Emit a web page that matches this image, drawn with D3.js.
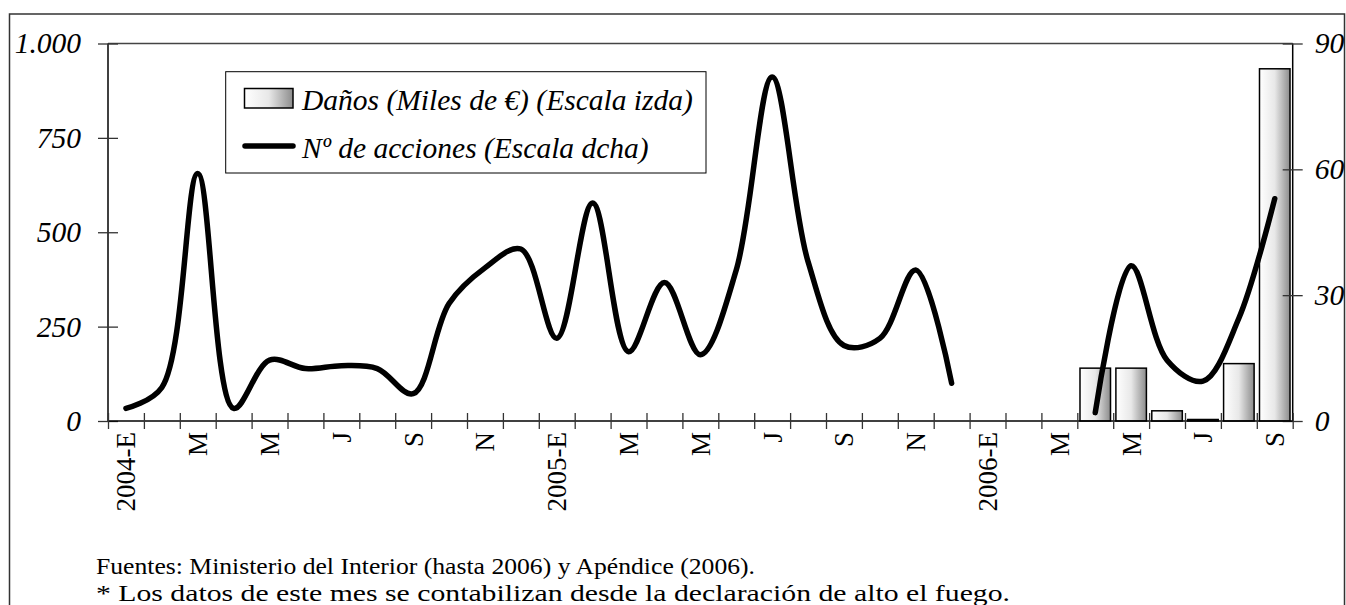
<!DOCTYPE html>
<html>
<head>
<meta charset="utf-8">
<script src="https://cdn.jsdelivr.net/npm/d3@7/dist/d3.min.js"></script>
<style>
  html, body { margin: 0; padding: 0; background: #fff; }
  svg { display: block; }
</style>
</head>
<body>
<svg id="chart" width="1346" height="605"></svg>
<script>
// ---- Data ----
const months = [
  "2004-01","2004-02","2004-03","2004-04","2004-05","2004-06","2004-07","2004-08","2004-09","2004-10","2004-11","2004-12",
  "2005-01","2005-02","2005-03","2005-04","2005-05","2005-06","2005-07","2005-08","2005-09","2005-10","2005-11","2005-12",
  "2006-01","2006-02","2006-03","2006-04","2006-05","2006-06","2006-07","2006-08","2006-09"
];
const tickLabels = ["2004-E","M","M","J","S","N","2005-E","M","M","J","S","N","2006-E","M","M","J","S"];
// Nº de acciones (right scale)
const acciones = [3, 8, 59, 3, 14.5, 12.5, 13.2, 12.5, 6.5, 28, 36.5, 41,
                  19.7, 52, 16.5, 33, 15.8, 36, 82, 38, 18, 19.7, 36, 9,
                  null, null, null, 2, 37, 14.5, 9.5, 24.5, 53];
// Daños (Miles de €) (left scale)
const danos = [null, null, null, null, null, null, null, null, null, null, null, null,
               null, null, null, null, null, null, null, null, null, null, null, null,
               null, null, null, 140, 140, 27, 4, 152, 933];
const leftTicks = [0, 250, 500, 750, 1000];
const rightTicks = [0, 30, 60, 90];
const legendLabels = ["Daños (Miles de €) (Escala izda)", "Nº de acciones (Escala dcha)"];
const notes = ["Fuentes: Ministerio del Interior (hasta 2006) y Apéndice (2006).",
               "* Los datos de este mes se contabilizan desde la declaración de alto el fuego."];

const FONT = "Liberation Serif";

// ---- Layout ----
const svg = d3.select("#chart");
const L = 108, R = 1292.7, T = 43.5, B = 421;

const defs = svg.append("defs");
const grad = defs.append("linearGradient").attr("id", "barGrad")
  .attr("x1", "0%").attr("x2", "100%").attr("y1", "0%").attr("y2", "0%");
grad.append("stop").attr("offset", "0%").attr("stop-color", "#ffffff");
grad.append("stop").attr("offset", "50%").attr("stop-color", "#e8e8e8");
grad.append("stop").attr("offset", "100%").attr("stop-color", "#8c8c8c");

// outer frame
svg.append("rect").attr("x", 9.5).attr("y", 14).attr("width", 1335).attr("height", 620)
  .attr("fill", "none").attr("stroke", "#333").attr("stroke-width", 1.5);

const x = d3.scaleBand().domain(months).range([L, R]).paddingInner(0.15).paddingOuter(0.075);
const xEdge = d3.scaleLinear().domain([0, months.length]).range([L, R]);
const yL = d3.scaleLinear().domain([0, 1000]).range([B, T]);
const yR = d3.scaleLinear().domain([0, 90]).range([B, T]);

// plot top border
svg.append("line").attr("x1", L).attr("x2", R).attr("y1", T).attr("y2", T)
  .attr("stroke", "#444").attr("stroke-width", 1.3);

// bars
const barData = months.map((m, i) => ({m, v: danos[i]})).filter(d => d.v != null);
svg.append("g").selectAll("rect").data(barData).join("rect")
  .attr("x", d => x(d.m))
  .attr("width", x.bandwidth())
  .attr("y", d => yL(d.v))
  .attr("height", d => B - yL(d.v))
  .attr("fill", "url(#barGrad)")
  .attr("stroke", "#000").attr("stroke-width", 1.5);

// line
const lineData = months.map((m, i) => ({m, v: acciones[i]}));
const line = d3.line()
  .defined(d => d.v != null)
  .x(d => x(d.m) + x.bandwidth() / 2)
  .y(d => yR(d.v))
  .curve(d3.curveCatmullRom.alpha(0.5));
svg.append("path").datum(lineData).attr("d", line)
  .attr("fill", "none").attr("stroke", "#000").attr("stroke-width", 5.5)
  .attr("stroke-linecap", "round").attr("stroke-linejoin", "round");

// left axis
const gL = svg.append("g").attr("transform", `translate(${L},0)`)
  .call(d3.axisLeft(yL).tickValues(leftTicks).tickSize(10).tickPadding(17)
    .tickFormat(d => d === 1000 ? "1.000" : String(d)));
gL.attr("font-family", FONT);
gL.select(".domain").attr("stroke", "#000").attr("stroke-width", 1.5).attr("d", `M0,${T}V${B}`);
gL.selectAll(".tick line").attr("x1", -10).attr("x2", 10).attr("stroke", "#333").attr("stroke-width", 1.3);
gL.selectAll(".tick text").attr("font-size", 29.5).attr("font-style", "italic")
  .attr("font-family", FONT).attr("fill", "#000");

// right axis
const gR = svg.append("g").attr("transform", `translate(${R},0)`)
  .call(d3.axisRight(yR).tickValues(rightTicks).tickSize(10).tickPadding(12));
gR.attr("font-family", FONT);
gR.select(".domain").attr("stroke", "#000").attr("stroke-width", 1.5).attr("d", `M0,${T}V${B}`);
gR.selectAll(".tick line").attr("x1", -10).attr("x2", 10).attr("stroke", "#333").attr("stroke-width", 1.3);
gR.selectAll(".tick text").attr("font-size", 29.5).attr("font-style", "italic")
  .attr("font-family", FONT).attr("fill", "#000");

// bottom axis: ticks at month boundaries
const gB = svg.append("g").attr("transform", `translate(0,${B})`)
  .call(d3.axisBottom(xEdge).tickValues(d3.range(months.length + 1)).tickSize(8).tickFormat(""));
gB.select(".domain").attr("stroke", "#000").attr("stroke-width", 1.5).attr("d", `M${L},0H${R}`);
gB.selectAll(".tick line").attr("y1", -8).attr("y2", 8).attr("stroke", "#333").attr("stroke-width", 1.3);

// bottom labels at band centres
const labelMonths = months.filter((m, i) => i % 2 === 0);
const gX = svg.append("g").attr("transform", `translate(0,${B})`)
  .call(d3.axisBottom(x).tickValues(labelMonths).tickSize(0)
    .tickFormat(m => tickLabels[labelMonths.indexOf(m)]));
gX.attr("font-family", FONT);
gX.select(".domain").remove();
gX.selectAll(".tick text")
  .attr("transform", "rotate(-90)")
  .attr("x", -11).attr("y", 0).attr("dy", "0.35em")
  .attr("text-anchor", "end")
  .attr("font-size", 27)
  .attr("font-family", FONT).attr("fill", "#000");

// legend
const lg = svg.append("g").attr("font-family", FONT);
lg.append("rect").attr("x", 225.7).attr("y", 71.7).attr("width", 480.3).attr("height", 101.3)
  .attr("fill", "#fff").attr("stroke", "#000").attr("stroke-width", 1);
lg.append("rect").attr("x", 244.5).attr("y", 88.5).attr("width", 48.5).attr("height", 19.5)
  .attr("fill", "url(#barGrad)").attr("stroke", "#000").attr("stroke-width", 1.5);
lg.append("line").attr("x1", 245).attr("x2", 293).attr("y1", 146).attr("y2", 146)
  .attr("stroke", "#000").attr("stroke-width", 5.5).attr("stroke-linecap", "round");
lg.append("text").attr("x", 302).attr("y", 110).attr("font-size", 29.5).attr("font-style", "italic")
  .attr("font-family", FONT).text(legendLabels[0]);
lg.append("text").attr("x", 302).attr("y", 158).attr("font-size", 29.5).attr("font-style", "italic")
  .attr("font-family", FONT).text(legendLabels[1]);

// notes
svg.append("text").attr("x", 96).attr("y", 574).attr("font-size", 23).attr("font-family", FONT)
  .attr("textLength", 659).attr("lengthAdjust", "spacingAndGlyphs").text(notes[0]);
svg.append("text").attr("x", 96).attr("y", 601).attr("font-size", 23).attr("font-family", FONT)
  .attr("textLength", 914).attr("lengthAdjust", "spacingAndGlyphs").text(notes[1]);
</script>
</body>
</html>
